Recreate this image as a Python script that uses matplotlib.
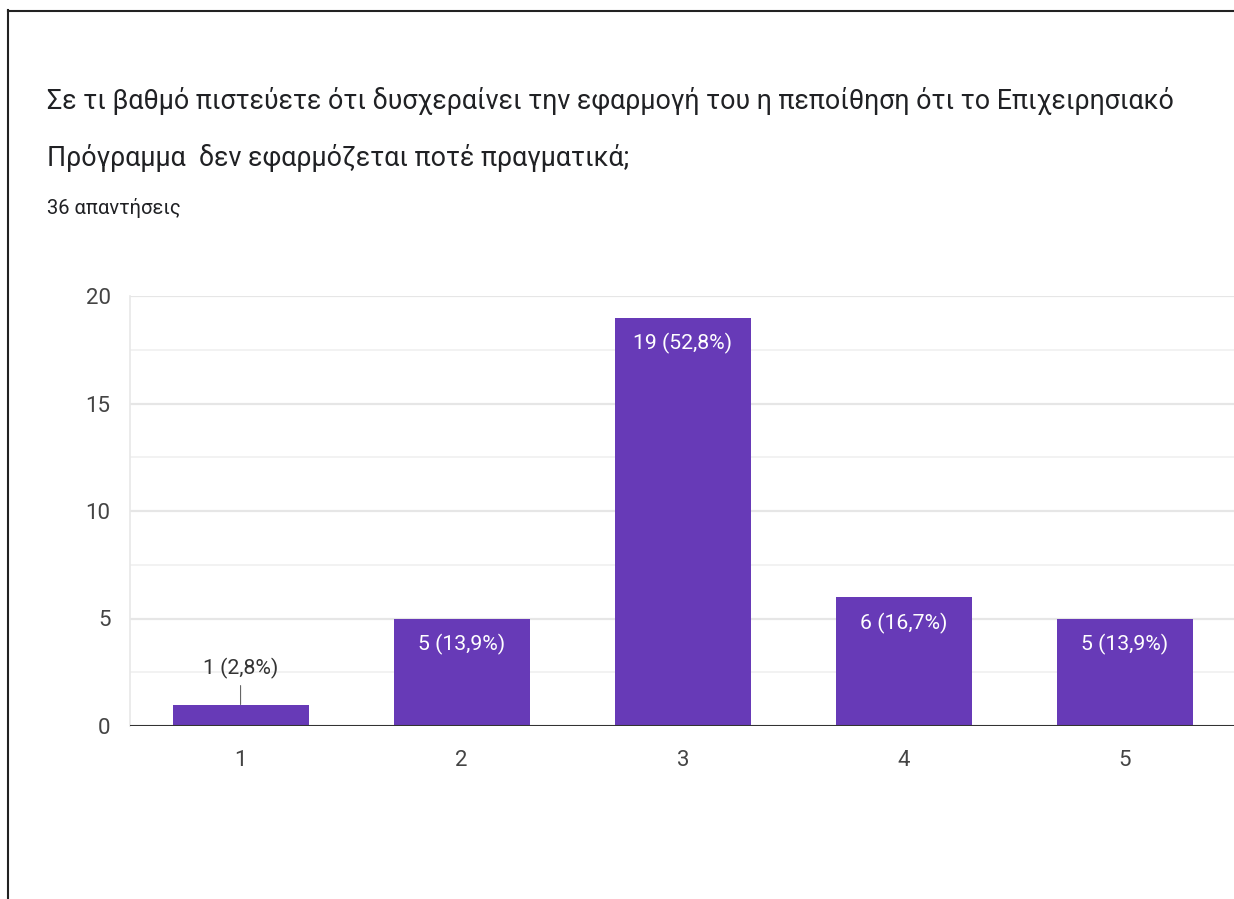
import matplotlib
matplotlib.use("Agg")
import matplotlib.pyplot as plt
from matplotlib.lines import Line2D
from matplotlib.ticker import MultipleLocator

# Δεδομένα απαντήσεων
categories = [1, 2, 3, 4, 5]
counts = [1, 5, 19, 6, 5]
percent_labels = ["2,8%", "13,9%", "52,8%", "16,7%", "13,9%"]

title_line1 = "Σε τι βαθμό πιστεύετε ότι δυσχεραίνει την εφαρμογή του η πεποίθηση ότι το Επιχειρησιακό"
title_line2 = "Πρόγραμμα  δεν εφαρμόζεται ποτέ πραγματικά;"
subtitle = "36 απαντήσεις"

plt.rcParams['font.family'] = ['Roboto', 'DejaVu Sans']

W, H = 1234, 899
fig = plt.figure(figsize=(W / 100, H / 100), dpi=100)
fig.patch.set_facecolor("white")

def fx(px):
    return px / W

def fy(py):
    return 1 - py / H

# Πλαίσιο (αριστερή και πάνω γραμμή)
fig.add_artist(Line2D([fx(8), fx(8)], [fy(10), 0], color="#222222", lw=1.5))
fig.add_artist(Line2D([fx(8), 1], [fy(10.5), fy(10.5)], color="#222222", lw=1.5))

# Τίτλος και πλήθος απαντήσεων
fig.text(fx(47), fy(109), title_line1, fontsize=19.3, color="#202124", va="baseline")
fig.text(fx(47), fy(166), title_line2, fontsize=19.3, color="#202124", va="baseline")
fig.text(fx(47), fy(214), subtitle, fontsize=14.5, color="#202124", va="baseline")

# Άξονες: y=0 στα 726px, y=20 στα 296px
left, right = 130, 1235.5
ax = fig.add_axes([fx(left), fy(726), (right - left) / W, (726 - 296) / H])
ax.set_xlim(0.5, 5.5)
ax.set_ylim(0, 20)

bars = ax.bar(categories, counts, width=0.615, color="#673ab7", zorder=3)

ax.yaxis.set_major_locator(MultipleLocator(5))
ax.yaxis.set_minor_locator(MultipleLocator(2.5))
ax.grid(axis="y", which="major", color="#e6e6e6", lw=1.6, zorder=0)
ax.grid(axis="y", which="minor", color="#f2f2f2", lw=1.4, zorder=0)
ax.axhline(0, color="#333333", lw=2.2, zorder=4)

for side in ["top", "right", "bottom"]:
    ax.spines[side].set_visible(False)
ax.spines["left"].set_color("#e8e8e8")
ax.spines["left"].set_linewidth(1.2)

ax.set_xticks(categories)
ax.set_xticklabels([str(c) for c in categories])
ax.tick_params(axis="both", which="both", length=0, labelsize=16, labelcolor="#444444")
ax.tick_params(axis="x", pad=17)
ax.tick_params(axis="y", pad=14)

# Ετικέτες τιμών
for x, v, p in zip(categories, counts, percent_labels):
    label = f"{v} ({p})"
    if v >= 3:
        ax.annotate(label, xy=(x, v), xytext=(0, -23), textcoords="offset points",
                    ha="center", va="baseline", fontsize=15.3, color="white", zorder=5)
    else:
        ax.annotate(label, xy=(x, v), xytext=(0, 22), textcoords="offset points",
                    ha="center", va="baseline", fontsize=15.3, color="#333333", zorder=5,
                    arrowprops=dict(arrowstyle="-", color="#666666", lw=0.8,
                                    shrinkA=3, shrinkB=0))

fig.savefig("out.png", dpi=100, facecolor="white")
